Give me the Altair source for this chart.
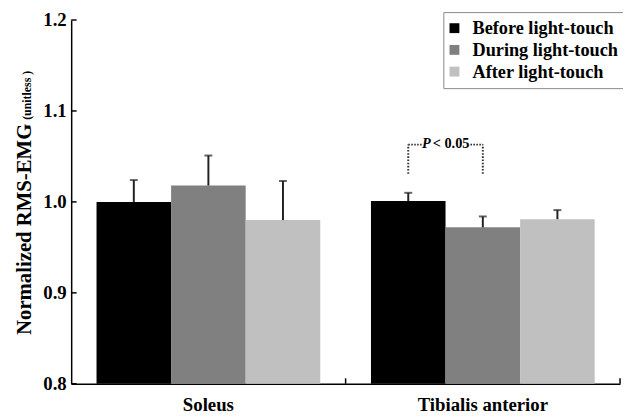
import altair as alt
import pandas as pd

# ---- data ----
groups = ["Soleus", "Tibialis anterior"]
series = ["Before light-touch", "During light-touch", "After light-touch"]
soleus_mean = [1.000, 1.018, 0.980]
soleus_err = [0.024, 0.033, 0.043]
tibialis_mean = [1.001, 0.972, 0.981]
tibialis_err = [0.009, 0.012, 0.010]
bar_colors = ["#000000", "#808080", "#c0c0c0"]
y_ticks = [0.8, 0.9, 1.0, 1.1, 1.2]
y_min, y_max = 0.8, 1.2
sig_group = "Tibialis anterior"
sig_pair = ["Before light-touch", "During light-touch"]
sig_low = 1.031
sig_high = 1.063
sig_p = "P"
sig_rest = "< 0.05"
title_main = "Normalized RMS-EMG"
title_unit = "(unitless )"

FONT = "Liberation Serif"

rows = []
for g, means, errs in [(groups[0], soleus_mean, soleus_err),
                       (groups[1], tibialis_mean, tibialis_err)]:
    for s, m, e in zip(series, means, errs):
        rows.append({"group": g, "series": s, "mean": m, "top": m + e})
df = pd.DataFrame(rows)

df_sig = pd.DataFrame({"group": [sig_group] * 2, "series": sig_pair,
                       "low": [sig_low] * 2, "high": [sig_high] * 2, "ord": [0, 1]})
df_p = pd.DataFrame({"group": [sig_group], "series": [sig_pair[0]],
                     "high": [sig_high], "label": [sig_p]})
df_rest = pd.DataFrame({"group": [sig_group], "series": [sig_pair[0]],
                        "high": [sig_high], "label": [sig_rest]})

# ---- shared scales / axes ----
x_axis = alt.Axis(title=None, ticks=False, tickSize=0, domainColor="black", domainWidth=1.5,
                  labelFont=FONT, labelFontWeight="bold", labelFontSize=19,
                  labelColor="black", labelPadding=12, labelAngle=0)
y_axis = alt.Axis(values=y_ticks, format=".1f", title=None, grid=False, ticks=False, tickSize=0,
                  domainColor="black", domainWidth=1.5, labelFont=FONT,
                  labelFontWeight="bold", labelFontSize=19, labelColor="black",
                  labelPadding=5, labelFlush=False, labelOverlap=False)
x_scale = alt.Scale(domain=groups, paddingInner=0, paddingOuter=0)
xo_scale = alt.Scale(domain=series, paddingInner=0, paddingOuter=0.34)
y_scale = alt.Scale(domain=[y_min, y_max], zero=False, nice=False)

X = alt.X("group:N", scale=x_scale, axis=x_axis)
XO = alt.XOffset("series:N", scale=xo_scale)


def Y(field):
    return alt.Y(field, scale=y_scale, axis=y_axis)


bars = alt.Chart(df).mark_bar().encode(
    x=X, xOffset=XO, y=Y("mean:Q"), y2=alt.datum(y_min),
    color=alt.Color("series:N", scale=alt.Scale(domain=series, range=bar_colors),
                    legend=alt.Legend(title=None, orient="none", legendX=377, legendY=-8,
                                      padding=7, strokeColor="#888888", fillColor="white",
                                      symbolType="square", symbolSize=100, symbolOffset=-5,
                                      symbolStrokeWidth=0, labelFont=FONT,
                                      labelFontWeight="bold", labelFontSize=18.5,
                                      labelColor="black", labelOffset=9, rowPadding=3)))

stems = alt.Chart(df).mark_rule(color="#222222", strokeWidth=2).encode(
    x=X, xOffset=XO, y=Y("mean:Q"), y2="top:Q")

caps = alt.Chart(df).mark_tick(color="#222222", thickness=2, size=8).encode(
    x=X, xOffset=XO, y=Y("top:Q"))

yticks = alt.Chart(pd.DataFrame({"tick": y_ticks})).mark_rule(
    color="black", strokeWidth=1.5).encode(
    y=Y("tick:Q"), x=alt.value(0), x2=alt.value(5.5))

xticks = alt.Chart(pd.DataFrame({"group": groups})).mark_rule(
    color="black", strokeWidth=1.5).encode(
    x=alt.X("group:N", scale=x_scale, axis=x_axis, bandPosition=1),
    y=alt.datum(y_min), y2=alt.datum(y_min + 0.006))

dot = [1.6, 1.6]
brack_v = alt.Chart(df_sig).mark_rule(color="#333333", strokeWidth=2, strokeDash=dot).encode(
    x=X, xOffset=XO, y=Y("low:Q"), y2="high:Q")

h_dash = [1.6, 1.4] * 4 + [1.6, 49.4] + [1.6, 1.4] * 4 + [1.6, 10]
brack_h = alt.Chart(df_sig).mark_line(color="#333333", strokeWidth=2, strokeDash=h_dash).encode(
    x=X, xOffset=XO, y=Y("high:Q"), order=alt.Order("ord:Q"))

p_text = alt.Chart(df_p).mark_text(font=FONT, fontWeight="bold", fontStyle="italic",
                                   fontSize=14.5, align="left", baseline="middle",
                                   dx=14, dy=-1, color="black").encode(
    x=X, xOffset=XO, y=Y("high:Q"), text="label:N")

rest_text = alt.Chart(df_rest).mark_text(font=FONT, fontWeight="bold", fontSize=14.5,
                                         align="right", baseline="middle",
                                         dx=62, dy=-1, color="black").encode(
    x=X, xOffset=XO, y=Y("high:Q"), text="label:N")

t_main = alt.Chart(pd.DataFrame({"t": [title_main]})).mark_text(
    angle=270, align="left", baseline="alphabetic", font=FONT, fontWeight="bold",
    fontSize=21, color="black").encode(text="t:N", x=alt.value(-40.5), y=alt.value(319))

t_unit = alt.Chart(pd.DataFrame({"t": [title_unit]})).mark_text(
    angle=270, align="right", baseline="alphabetic", font=FONT, fontWeight="bold",
    fontSize=12, color="black").encode(text="t:N", x=alt.value(-40.5), y=alt.value(51.5))

chart = alt.layer(bars, stems, caps, yticks, xticks, brack_v, brack_h, p_text, rest_text,
                  t_main, t_unit).properties(
    width=556, height=368.5,
    autosize=alt.AutoSizeParams(type="none"),
    padding={"left": 64, "top": 9.5, "right": 3, "bottom": 34},
).configure_view(stroke=None)

chart.save("out.html", embed_options={"renderer": "svg", "actions": False})
